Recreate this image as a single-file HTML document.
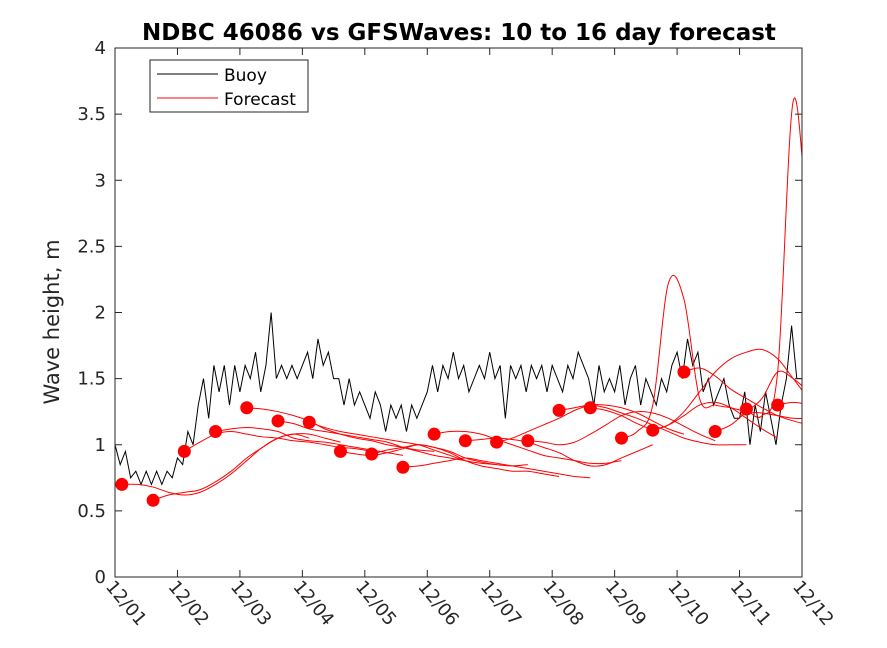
<!DOCTYPE html>
<html><head><meta charset="utf-8"><style>
body{margin:0;background:#fff;}
svg{display:block;font-family:"DejaVu Sans","Liberation Sans",sans-serif;}
</style></head><body>
<svg id="chart" width="887" height="648" viewBox="0 0 887 648" xmlns="http://www.w3.org/2000/svg">
<rect width="887" height="648" fill="#fff"/>
<text x="459" y="40" text-anchor="middle" font-size="23" font-weight="bold" fill="#000">NDBC 46086 vs GFSWaves: 10 to 16 day forecast</text>
<text transform="translate(59,322) rotate(-90)" text-anchor="middle" font-size="21" fill="#262626">Wave height, m</text>
<defs><clipPath id="pc"><rect x="115" y="48" width="687" height="529"/></clipPath></defs>
<g id="series" clip-path="url(#pc)"></g>
<g id="axes"></g>
<g>
<rect x="150" y="60" width="158" height="52" fill="#fff" stroke="#262626" stroke-width="1"/>
<line x1="157" y1="74" x2="218" y2="74" stroke="#000" stroke-width="1"/>
<text x="224" y="81" font-size="17" fill="#000">Buoy</text>
<line x1="157" y1="98" x2="218" y2="98" stroke="#f00" stroke-width="1"/>
<text x="224" y="105" font-size="17" fill="#000">Forecast</text>
</g>
</svg>
<script>
const xTickLabels=["12/01","12/02","12/03","12/04","12/05","12/06","12/07","12/08","12/09","12/10","12/11","12/12"];
const yTickLabels=["0","0.5","1","1.5","2","2.5","3","3.5","4"];
const yTickValues=[0,0.5,1,1.5,2,2.5,3,3.5,4];
const buoyStepDays=1/12;
const buoyValues=[
1.0,0.85,0.95,0.75,0.8,0.7,0.8,0.7,0.8,0.7,0.8,0.75,
0.9,0.85,1.1,1.0,1.3,1.5,1.2,1.6,1.4,1.6,1.3,1.6,
1.4,1.6,1.5,1.7,1.4,1.6,2.0,1.5,1.6,1.5,1.6,1.5,
1.6,1.7,1.5,1.8,1.6,1.7,1.5,1.5,1.3,1.5,1.3,1.4,
1.3,1.2,1.4,1.3,1.1,1.3,1.2,1.3,1.1,1.3,1.2,1.3,
1.4,1.6,1.4,1.6,1.5,1.7,1.5,1.6,1.4,1.5,1.6,1.5,
1.7,1.5,1.6,1.2,1.6,1.5,1.6,1.4,1.6,1.5,1.6,1.4,
1.6,1.5,1.4,1.6,1.5,1.7,1.6,1.5,1.3,1.6,1.4,1.5,
1.4,1.6,1.3,1.5,1.6,1.3,1.5,1.4,1.3,1.5,1.4,1.6,
1.7,1.5,1.8,1.6,1.7,1.4,1.5,1.3,1.4,1.5,1.3,1.2,
1.2,1.4,1.0,1.3,1.1,1.4,1.2,1.0,1.3,1.5,1.9,1.5,1.5];
const forecastStartDays=[0.11,0.61,1.11,1.61,2.11,2.61,3.11,3.61,4.11,4.61,5.11,5.61,6.11,6.61,7.11,7.61,8.11,8.61,9.11,9.61,10.11,10.61];
const forecastStepDays=0.25;
const forecast0=[0.70,0.70,0.68,0.64,0.62,0.64,0.70,0.78,0.88,0.98,1.05,1.08,1.05];
const forecast1=[0.58,0.62,0.64,0.66,0.72,0.80,0.90,0.98,1.05,1.08,1.08,1.05,1.02];
const forecast2=[0.95,1.02,1.08,1.10,1.08,1.06,1.05,1.03,1.02,1.00,0.98,0.97,0.95];
const forecast3=[1.10,1.12,1.13,1.12,1.10,1.05,1.03,1.02,1.00,0.98,0.96,0.94,0.92];
const forecast4=[1.28,1.27,1.25,1.22,1.18,1.12,1.08,1.05,1.03,1.00,0.98,0.96,0.95];
const forecast5=[1.18,1.16,1.12,1.10,1.08,1.06,1.04,1.02,0.98,0.95,0.92,0.90,0.88];
const forecast6=[1.17,1.13,1.10,1.08,1.06,1.04,1.02,1.00,0.96,0.92,0.88,0.86,0.85];
const forecast7=[0.95,0.93,0.92,0.94,0.97,1.00,0.98,0.95,0.90,0.87,0.85,0.84,0.85];
const forecast8=[0.93,0.96,0.98,1.00,0.98,0.94,0.88,0.84,0.82,0.80,0.80,0.78,0.76];
const forecast9=[0.83,0.84,0.86,0.88,0.90,0.88,0.86,0.84,0.82,0.80,0.78,0.76,0.75];
const forecast10=[1.08,1.10,1.10,1.08,1.04,1.00,0.96,0.92,0.90,0.88,0.86,0.86,0.88];
const forecast11=[1.03,1.04,1.05,1.04,1.02,0.98,0.94,0.88,0.84,0.85,0.90,0.95,1.00];
const forecast12=[1.02,1.05,1.10,1.15,1.20,1.26,1.30,1.30,1.28,1.24,1.18,1.12,1.08];
const forecast13=[1.03,1.02,1.00,1.02,1.08,1.15,1.22,1.25,1.24,1.20,1.14,1.08,1.03];
const forecast14=[1.26,1.28,1.30,1.28,1.24,1.20,1.15,1.10,1.05,1.02,1.00,1.00,1.00];
const forecast15=[1.28,1.26,1.22,1.16,1.12,1.15,1.22,1.30,1.32,1.28,1.20,1.12,1.05];
const forecast16=[1.05,1.10,1.30,2.22,2.10,1.35,1.30,1.28,1.25,1.24,1.22,1.20,1.20];
const forecast17=[1.11,1.15,1.25,1.40,1.55,1.65,1.70,1.72,1.65,1.50,1.35,1.25,1.20];
const forecast18=[1.55,1.58,1.52,1.42,1.35,1.28,1.22,1.18,1.15,1.12,1.10,1.12,1.15];
const forecast19=[1.10,1.15,1.25,1.35,1.55,1.50,1.40,1.30,1.20,1.10,1.00,1.00,1.00];
const forecast20=[1.27,1.22,1.55,3.60,2.60,2.00,1.60,1.40,1.30,1.25,1.20,1.20,1.20];
const forecast21=[1.30,1.32,1.30,1.25,1.20,1.15,1.10,1.05,1.00,1.00,1.00,1.00,1.00];
const forecasts=[forecast0,forecast1,forecast2,forecast3,forecast4,forecast5,forecast6,forecast7,forecast8,forecast9,forecast10,forecast11,forecast12,forecast13,forecast14,forecast15,forecast16,forecast17,forecast18,forecast19,forecast20,forecast21];

const X0=115,X1=802,Y0=577,Y1=48;
function xs(d){return X0+(X1-X0)*d/11;}
function ys(v){return Y0-(Y0-Y1)*v/4;}
const NS="http://www.w3.org/2000/svg";
function mk(t,a){const e=document.createElementNS(NS,t);for(const k in a)e.setAttribute(k,a[k]);return e;}
const series=document.getElementById('series');
const axes=document.getElementById('axes');

let d="";
buoyValues.forEach((v,i)=>{d+=(i===0?"M":" L")+xs(i*buoyStepDays)+" "+ys(v);});
const bp=mk('path',{d:d,fill:'none',stroke:'#000','stroke-width':1});


series.appendChild(bp);

function smooth(pts){let s="M"+pts[0][0]+" "+pts[0][1];
 for(let i=0;i<pts.length-1;i++){const p0=pts[Math.max(0,i-1)],p1=pts[i],p2=pts[i+1],p3=pts[Math.min(pts.length-1,i+2)];
  const c1=[p1[0]+(p2[0]-p0[0])/6,p1[1]+(p2[1]-p0[1])/6],c2=[p2[0]-(p3[0]-p1[0])/6,p2[1]-(p3[1]-p1[1])/6];
  s+=" C"+c1[0]+" "+c1[1]+" "+c2[0]+" "+c2[1]+" "+p2[0]+" "+p2[1];}
 return s;}
forecasts.forEach((f,k)=>{const pts=f.map((v,i)=>[xs(forecastStartDays[k]+i*forecastStepDays),ys(v)]);
 const p=mk('path',{d:smooth(pts),fill:'none',stroke:'#f00','stroke-width':1});
 
 
 series.appendChild(p);});
forecasts.forEach((f,k)=>{const c=mk('circle',{cx:xs(forecastStartDays[k]),cy:ys(f[0]),r:6.5,fill:'#f00'});
 
 
 series.appendChild(c);});

const box=mk('rect',{x:X0,y:Y1,width:X1-X0,height:Y0-Y1,fill:'none',stroke:'#262626','stroke-width':1});


axes.appendChild(box);
yTickValues.forEach((v,i)=>{const y=ys(v);
 axes.appendChild(mk('line',{x1:X0,y1:y,x2:X0+7,y2:y,stroke:'#262626'}));
 axes.appendChild(mk('line',{x1:X1,y1:y,x2:X1-7,y2:y,stroke:'#262626'}));
 const t=mk('text',{x:106,y:y+6,'text-anchor':'end','font-size':18,fill:'#262626'});
 t.textContent=yTickLabels[i];
 
 
 axes.appendChild(t);});
xTickLabels.forEach((lab,i)=>{const x=xs(i);
 axes.appendChild(mk('line',{x1:x,y1:Y0,x2:x,y2:Y0-7,stroke:'#262626'}));
 axes.appendChild(mk('line',{x1:x,y1:Y1,x2:x,y2:Y1+7,stroke:'#262626'}));
 const t=mk('text',{transform:'translate('+(x-10)+','+(Y0+10)+') rotate(50)','font-size':18,fill:'#262626'});
 t.textContent=lab;
 
 
 axes.appendChild(t);});
</script>
</body></html>
